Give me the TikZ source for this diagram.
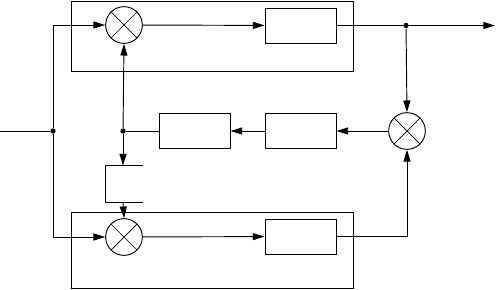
\documentclass[tikz,border=0pt]{standalone}
\usetikzlibrary{arrows.meta}
\begin{document}
\begin{tikzpicture}[x=0.3mm, y=-0.3mm, line width=0.8pt,
  >={Triangle[length=10pt,width=6pt]},
  mixer/.style={draw, circle, minimum size=1.1cm, inner sep=0pt,
    path picture={
      \draw[line width=0.6pt] (path picture bounding box.center) ++(-6mm,-6mm) -- ++(12mm,12mm);
      \draw[line width=0.6pt] (path picture bounding box.center) ++(-6mm,6mm) -- ++(12mm,-12mm);}},
  blk/.style={draw, minimum width=2.13cm, minimum height=1.05cm, inner sep=0pt},
  dot/.style={circle, fill, minimum size=1.6mm, inner sep=0pt}]
  \useasboundingbox (0,0) rectangle (496,290);
  % outer frames
  \draw (71,1.5) rectangle (353,71);
  \draw (71,212) rectangle (353,288.5);
  % upper channel
  \node[mixer] (mulA) at (124,25) {};
  \node[blk]   (blkA) at (300.5,25.5) {};
  \node[dot]   (jOut) at (406,25.5) {};
  \coordinate  (out)  at (495,25.5);
  % middle row
  \node[mixer] (mulC) at (407,131) {};
  \node[blk]   (blkB) at (300.5,131) {};
  \node[blk]   (blkC) at (194.5,131) {};
  \node[dot]   (jMid) at (123,131) {};
  \node[dot]   (jIn)  at (53,131) {};
  \coordinate  (in)   at (0,131);
  % small open block
  \node[minimum width=1.11cm, minimum height=1.08cm, inner sep=0pt] (blkE) at (124.5,184) {};
  \draw (blkE.north east) -- (blkE.north west) -- (blkE.south west) -- (blkE.south east);
  % lower channel
  \node[mixer] (mulB) at (124,237) {};
  \node[blk]   (blkD) at (300.5,236.5) {};
  % connections
  \draw (in) -- (jIn);
  \draw[->] (jIn) |- (mulA.west);
  \draw[->] (jIn) |- (mulB.west);
  \draw[->] (mulA) -- (blkA);
  \draw[->] (blkA) -- (out);
  \draw[->] (jOut) -- (mulC.north);
  \draw[->] (mulB) -- (blkD);
  \draw[->] (blkD.east) -| (mulC.south);
  \draw[->] (mulC) -- (blkB);
  \draw[->] (blkB) -- (blkC);
  \draw (blkC) -- (jMid);
  \draw[->] (jMid) -- (mulA.south);
  \draw[->] (jMid) -- (jMid |- blkE.north);
  \draw[->] (jMid |- blkE.south) -- (mulB.north);
\end{tikzpicture}
\end{document}
